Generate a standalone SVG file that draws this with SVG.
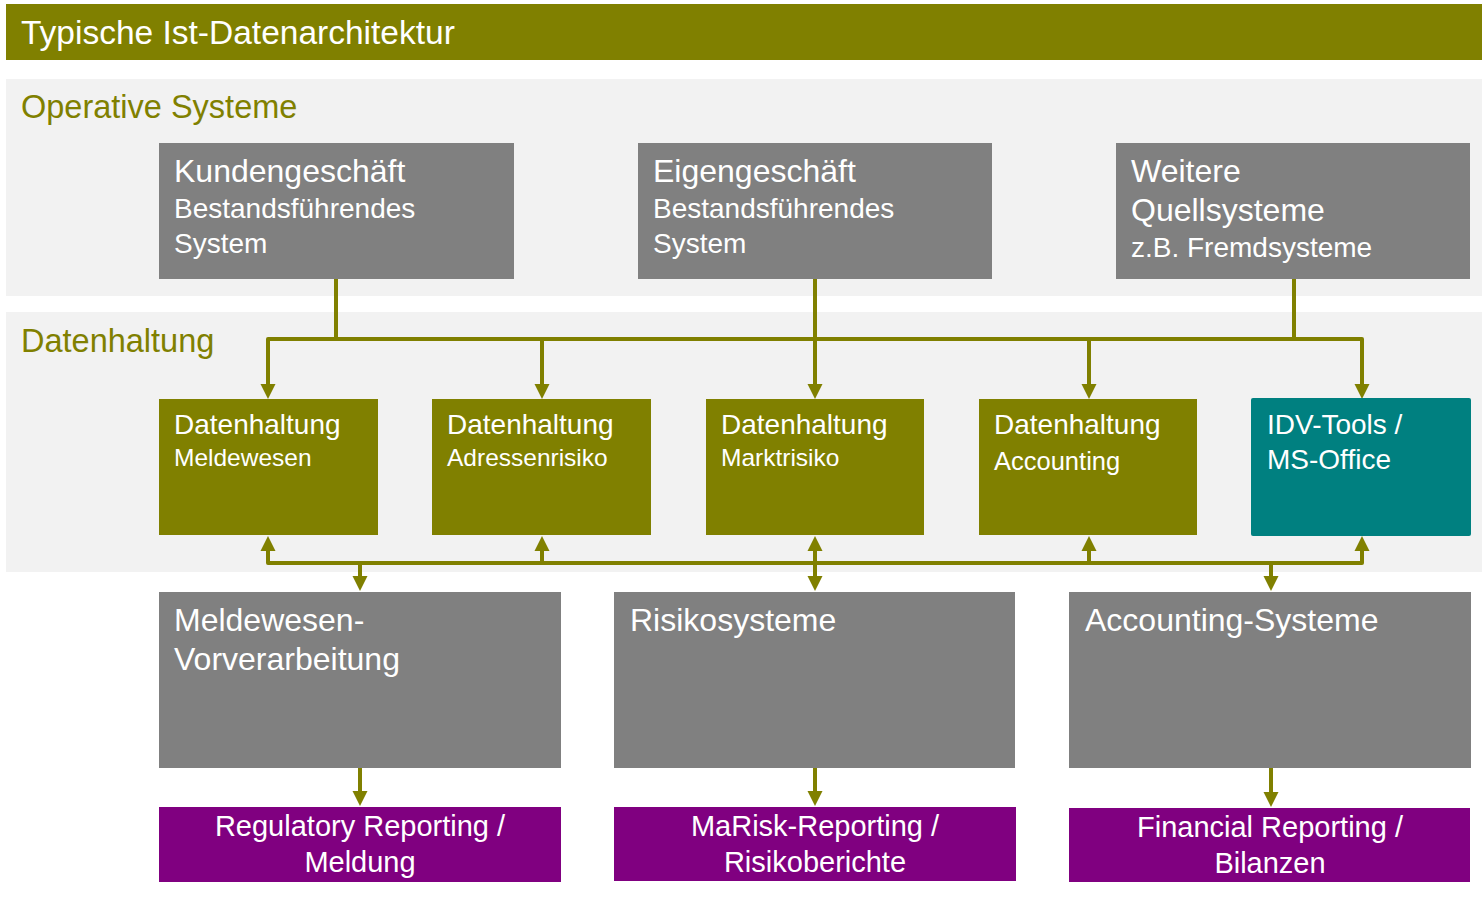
<svg xmlns="http://www.w3.org/2000/svg" width="1482" height="898" viewBox="0 0 1482 898">
<style>
text{font-family:"Liberation Sans",Arial,sans-serif;fill:#fff}
.lbl{fill:#808000;font-size:32.5px}
.t32{font-size:32px}
.t28{font-size:28px}
.t24{font-size:24.5px}
.t29{font-size:29px}
.c{text-anchor:middle}
.gray{fill:#808080}
.olive{fill:#808000}
.teal{fill:#008080}
.purple{fill:#800080}
.panel{fill:#f2f2f2}
.conn{fill:none;stroke:#808000;stroke-width:4;stroke-linejoin:round}
</style>
<defs>
<marker id="arr" markerUnits="userSpaceOnUse" markerWidth="16" markerHeight="16" viewBox="0 -8 16 16" refX="1" refY="0" orient="auto-start-reverse">
<path d="M0,-7.5 L15,0 L0,7.5 z" fill="#808000"/>
</marker>
</defs>
<rect width="1482" height="898" fill="#fff"/>
<g id="header">
<rect x="6" y="4" width="1476" height="56" class="olive"/>
<text x="21" y="44" style="font-size:33.5px">Typische Ist-Datenarchitektur</text>
</g>
<g id="panel-operative">
<rect x="6" y="79" width="1476" height="217" class="panel"/>
<text x="21" y="118" class="lbl">Operative Systeme</text>
</g>
<g id="panel-datenhaltung">
<rect x="6" y="312" width="1476" height="260" class="panel"/>
<text x="21" y="352" class="lbl">Datenhaltung</text>
</g>
<g id="connectors">
<path class="conn" d="M268,385 V339 H1362 V385" marker-start="url(#arr)" marker-end="url(#arr)"/>
<path class="conn" d="M336,279 V339"/>
<path class="conn" d="M1294,279 V339"/>
<path class="conn" d="M815,279 V385" marker-end="url(#arr)"/>
<path class="conn" d="M542,339 V385" marker-end="url(#arr)"/>
<path class="conn" d="M1089,339 V385" marker-end="url(#arr)"/>
<path class="conn" d="M268,550 V563 H1362 V550" marker-start="url(#arr)" marker-end="url(#arr)"/>
<path class="conn" d="M542,563 V550" marker-end="url(#arr)"/>
<path class="conn" d="M815,563 V550" marker-end="url(#arr)"/>
<path class="conn" d="M1089,563 V550" marker-end="url(#arr)"/>
<path class="conn" d="M360,563 V577" marker-end="url(#arr)"/>
<path class="conn" d="M815,563 V577" marker-end="url(#arr)"/>
<path class="conn" d="M1271,563 V577" marker-end="url(#arr)"/>
<path class="conn" d="M360,768 V792" marker-end="url(#arr)"/>
<path class="conn" d="M815,768 V792" marker-end="url(#arr)"/>
<path class="conn" d="M1271,768 V793" marker-end="url(#arr)"/>
</g>
<g id="kundengeschaeft">
<rect x="159" y="143" width="355" height="136" class="gray"/>
<text x="174" y="182" class="t32">Kundengeschäft</text>
<text x="174" y="218" class="t28">Bestandsführendes</text>
<text x="174" y="253" class="t28">System</text>
</g>
<g id="eigengeschaeft">
<rect x="638" y="143" width="354" height="136" class="gray"/>
<text x="653" y="182" class="t32">Eigengeschäft</text>
<text x="653" y="218" class="t28">Bestandsführendes</text>
<text x="653" y="253" class="t28">System</text>
</g>
<g id="weitere">
<rect x="1116" y="143" width="354" height="136" class="gray"/>
<text x="1131" y="182" class="t32">Weitere</text>
<text x="1131" y="221" class="t32">Quellsysteme</text>
<text x="1131" y="257" class="t28">z.B. Fremdsysteme</text>
</g>
<g id="dh-meldewesen">
<rect x="159" y="399" width="219" height="136" class="olive"/>
<text x="174" y="434" class="t28">Datenhaltung</text>
<text x="174" y="466" class="t24">Meldewesen</text>
</g>
<g id="dh-adressenrisiko">
<rect x="432" y="399" width="219" height="136" class="olive"/>
<text x="447" y="434" class="t28">Datenhaltung</text>
<text x="447" y="466" class="t24">Adressenrisiko</text>
</g>
<g id="dh-marktrisiko">
<rect x="706" y="399" width="218" height="136" class="olive"/>
<text x="721" y="434" class="t28">Datenhaltung</text>
<text x="721" y="466" class="t24">Marktrisiko</text>
</g>
<g id="dh-accounting">
<rect x="979" y="399" width="218" height="136" class="olive"/>
<text x="994" y="434" class="t28">Datenhaltung</text>
<text x="994" y="470" style="font-size:25.5px">Accounting</text>
</g>
<g id="idv-tools">
<rect x="1251" y="398" width="220" height="138" rx="2" class="teal"/>
<text x="1267" y="434" class="t28">IDV-Tools /</text>
<text x="1267" y="469" class="t28">MS-Office</text>
</g>
<g id="meldewesen-vorverarbeitung">
<rect x="159" y="592" width="402" height="176" class="gray"/>
<text x="174" y="631" class="t32">Meldewesen-</text>
<text x="174" y="670" class="t32">Vorverarbeitung</text>
</g>
<g id="risikosysteme">
<rect x="614" y="592" width="401" height="176" class="gray"/>
<text x="630" y="631" class="t32">Risikosysteme</text>
</g>
<g id="accounting-systeme">
<rect x="1069" y="592" width="402" height="176" class="gray"/>
<text x="1085" y="631" class="t32">Accounting-Systeme</text>
</g>
<g id="regulatory-reporting">
<rect x="159" y="807" width="402" height="75" class="purple"/>
<text x="360" y="836" class="t29 c">Regulatory Reporting /</text>
<text x="360" y="872" class="t29 c">Meldung</text>
</g>
<g id="marisk-reporting">
<rect x="614" y="807" width="402" height="74" class="purple"/>
<text x="815" y="836" class="t29 c">MaRisk-Reporting /</text>
<text x="815" y="872" class="t29 c">Risikoberichte</text>
</g>
<g id="financial-reporting">
<rect x="1069" y="808" width="401" height="74" class="purple"/>
<text x="1270" y="837" class="t29 c">Financial Reporting /</text>
<text x="1270" y="873" class="t29 c">Bilanzen</text>
</g>
</svg>
